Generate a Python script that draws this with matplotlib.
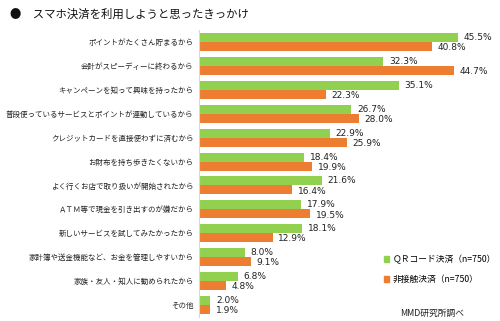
import matplotlib.pyplot as plt
import numpy as np
from matplotlib.patches import Patch

plt.rcParams['font.family'] = ['Noto Sans CJK JP', 'DejaVu Sans']

categories = [
    "ポイントがたくさん貯まるから",
    "会計がスピーディーに終わるから",
    "キャンペーンを知って興味を持ったから",
    "普段使っているサービスとポイントが連動しているから",
    "クレジットカードを直接使わずに済むから",
    "お財布を持ち歩きたくないから",
    "よく行くお店で取り扱いが開始されたから",
    "ＡＴＭ等で現金を引き出すのが嫌だから",
    "新しいサービスを試してみたかったから",
    "家計簿や送金機能など、お金を管理しやすいから",
    "家族・友人・知人に勧められたから",
    "その他",
]
qr = [45.5, 32.3, 35.1, 26.7, 22.9, 18.4, 21.6, 17.9, 18.1, 8.0, 6.8, 2.0]
contactless = [40.8, 44.7, 22.3, 28.0, 25.9, 19.9, 16.4, 19.5, 12.9, 9.1, 4.8, 1.9]
series_labels = ["ＱＲコード決済（n=750）", "非接触決済（n=750）"]

green = "#92D050"
orange = "#ED7D31"

fig = plt.figure(figsize=(5, 3.21), dpi=100)
ax = fig.add_axes([0.398, 0.0125, 0.57, 0.894])

y = np.arange(len(categories))
h = 0.375
ax.barh(y - h / 2, qr, height=h, color=green)
ax.barh(y + h / 2, contactless, height=h, color=orange)

for i in range(len(categories)):
    ax.text(qr[i] + 1.0, y[i] - h / 2, f"{qr[i]:.1f}%", va="center", ha="left",
            fontsize=6.5, family="DejaVu Sans", color="#222222")
    ax.text(contactless[i] + 1.0, y[i] + h / 2 + 0.05, f"{contactless[i]:.1f}%", va="center", ha="left",
            fontsize=6.5, family="DejaVu Sans", color="#222222")

ax.set_xlim(0, 50)
ax.set_ylim(len(categories) - 0.5, -0.5)
ax.set_yticks(y)
ax.set_yticklabels(categories, fontsize=5.4, color="#222222")
ax.tick_params(axis="y", length=0, pad=4)
ax.set_xticks([])
for s in ["top", "right", "bottom"]:
    ax.spines[s].set_visible(False)
ax.spines["left"].set_color("#D9D9D9")
ax.spines["left"].set_linewidth(0.8)

fig.text(0.02, 0.955, "●　スマホ決済を利用しようと思ったきっかけ", fontsize=8.2, va="center", color="#111111")

handles = [Patch(color=green), Patch(color=orange)]
fig.legend(handles, series_labels, loc="upper left", bbox_to_anchor=(0.752, 0.23),
           frameon=False, fontsize=6.3, handlelength=0.6, handleheight=0.6,
           handletextpad=0.4, labelspacing=1.25)

fig.text(0.80, 0.025, "MMD研究所調べ", fontsize=6.3, va="center", color="#222222")

fig.savefig("out.png", dpi=100)
